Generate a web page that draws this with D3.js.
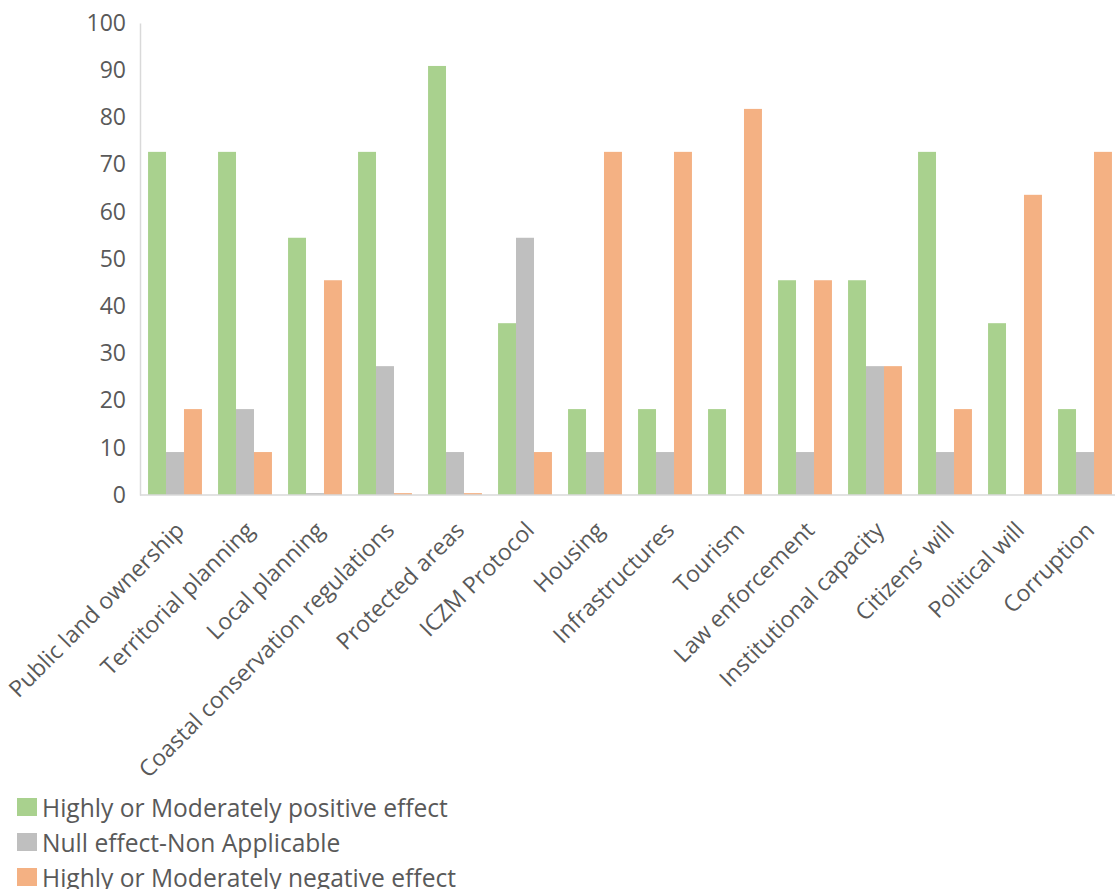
<!DOCTYPE html>
<html>
<head>
<meta charset="utf-8">
<script src="https://cdn.jsdelivr.net/npm/d3@7"></script>
<style>
  html, body { margin: 0; padding: 0; background: #fff; }
  svg { display: block; font-family: "Open Sans", "Noto Sans", sans-serif; }
</style>
</head>
<body>
<svg id="chart" width="1115" height="889"></svg>
<script>
// Factors and share of respondents (%) per perceived effect
const categories = [
  "Public land ownership", "Territorial planning", "Local planning",
  "Coastal conservation regulations", "Protected areas", "ICZM Protocol",
  "Housing", "Infrastructures", "Tourism", "Law enforcement",
  "Institutional capacity", "Citizens\u2019 will", "Political will", "Corruption"
];
const positive = [72.7, 72.7, 54.5, 72.7, 90.9, 36.4, 18.2, 18.2, 18.2, 45.5, 45.5, 72.7, 36.4, 18.2];
const nullEffect = [9.1, 18.2, 0.4, 27.3, 9.1, 54.5, 9.1, 9.1, 0, 9.1, 27.3, 9.1, 0, 9.1];
const negative = [18.2, 9.1, 45.5, 0.4, 0.4, 9.1, 72.7, 72.7, 81.8, 45.5, 27.3, 18.2, 63.6, 72.7];
const seriesNames = [
  "Highly or Moderately positive effect",
  "Null effect-Non Applicable",
  "Highly or Moderately negative effect"
];
const seriesColors = ["#A9D18E", "#BFBFBF", "#F4B183"];
const yTicks = [0, 10, 20, 30, 40, 50, 60, 70, 80, 90, 100];

const series = [positive, nullEffect, negative];
const svg = d3.select("#chart");

const plot = { left: 140, right: 1120, top: 23, bottom: 495 };

const x = d3.scaleBand().domain(categories).range([plot.left, plot.right]).paddingInner(0.23).paddingOuter(0.115);
const xs = d3.scaleBand().domain(d3.range(series.length)).range([0, x.bandwidth()]);
const y = d3.scaleLinear().domain([0, 100]).range([plot.bottom, plot.top]);

// Y axis: line plus labels, no tick marks
const yAxis = svg.append("g")
  .attr("transform", `translate(${plot.left},0)`)
  .call(d3.axisLeft(y).tickValues(yTicks).tickSize(0).tickPadding(14));
yAxis.select(".domain").attr("stroke", "#d9d9d9").attr("stroke-width", 1.5);
yAxis.selectAll("text").attr("fill", "#595959").style("font-size", "23px").style("font-family", "'Open Sans', sans-serif");

// Bars
const groups = svg.append("g").selectAll("g")
  .data(categories)
  .join("g")
  .attr("transform", d => `translate(${x(d)},0)`);

groups.selectAll("rect")
  .data((d, i) => series.map((s, k) => ({ k, v: s[i] })))
  .join("rect")
  .attr("x", d => xs(d.k))
  .attr("width", xs.bandwidth())
  .attr("y", d => y(d.v))
  .attr("height", d => y(0) - y(d.v))
  .attr("fill", d => seriesColors[d.k]);

// X axis line
svg.append("line")
  .attr("x1", plot.left).attr("x2", 1115)
  .attr("y1", y(0)).attr("y2", y(0))
  .attr("stroke", "#d9d9d9").attr("stroke-width", 1.5);

// Rotated category labels
svg.append("g").selectAll("text")
  .data(categories)
  .join("text")
  .attr("transform", d => `translate(${x(d) + x.bandwidth() / 2 + 5},${y(0) + 31}) rotate(-45)`)
  .attr("text-anchor", "end")
  .attr("dy", "0.35em")
  .attr("fill", "#595959")
  .style("font-size", "23px")
  .text(d => d);

// Legend
const legend = svg.append("g").selectAll("g")
  .data(seriesNames)
  .join("g")
  .attr("transform", (d, i) => `translate(17,${798 + i * 35})`);
legend.append("rect")
  .attr("width", 20).attr("height", 18)
  .attr("fill", (d, i) => seriesColors[i]);
legend.append("text")
  .attr("x", 25).attr("y", 18.5)
  .attr("fill", "#595959")
  .style("font-size", "24.6px")
  .text(d => d);
</script>
</body>
</html>
